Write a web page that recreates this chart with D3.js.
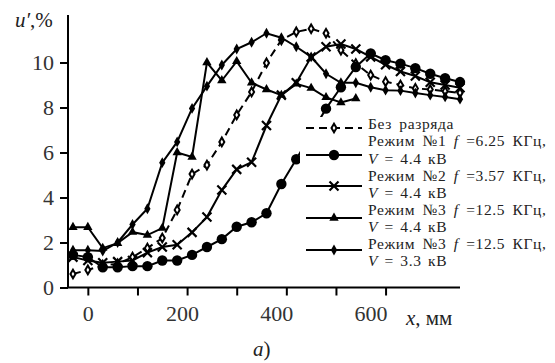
<!DOCTYPE html>
<html>
<head>
<meta charset="utf-8">
<script src="https://cdn.jsdelivr.net/npm/d3@7"></script>
<style>
  body { margin: 0; background: #fff; }
  svg text { font-family: "Liberation Serif", "Times New Roman", Times, "DejaVu Serif", serif; }
</style>
</head>
<body>
<div id="chart"></div>
<script>
// Data: x in mm, u' in %
var xNoDischarge = [-30, 0, 30, 60, 90, 120, 150, 180, 210, 240, 270, 300, 330, 360, 390, 420, 450, 480, 510, 540, 570, 600, 630, 660, 690, 720, 750];
var yNoDischarge = [0.6, 0.78, 1.0, 1.05, 1.35, 1.75, 2.2, 3.45, 5.04, 5.44, 6.47, 7.67, 8.69, 9.98, 11.0, 11.36, 11.5, 11.3, 10.55, 9.95, 9.44, 9.15, 9.0, 8.85, 8.8, 8.72, 8.65];

var xMode1 = [-30, 0, 30, 60, 90, 120, 150, 180, 210, 240, 270, 300, 330, 360, 390, 420, 480, 510, 540, 570, 600, 630, 660, 690, 720, 750];
var yMode1 = [1.45, 1.35, 0.9, 0.9, 0.95, 0.95, 1.2, 1.2, 1.45, 1.8, 2.15, 2.7, 2.9, 3.3, 4.6, 5.7, 7.95, 8.9, 9.8, 10.4, 10.1, 9.95, 9.75, 9.5, 9.3, 9.13];

var xMode2 = [-30, 0, 30, 60, 90, 120, 150, 180, 210, 240, 270, 300, 330, 360, 390, 420, 450, 480, 510, 540, 570, 600, 630, 660, 690, 720, 750];
var yMode2 = [1.35, 1.2, 1.1, 1.15, 1.2, 1.55, 1.8, 1.9, 2.45, 3.13, 4.33, 5.25, 5.57, 7.2, 8.55, 9.1, 10.24, 10.7, 10.82, 10.6, 10.25, 9.9, 9.6, 9.4, 9.12, 9.0, 8.88];

var xMode3a = [-30, 0, 30, 60, 90, 120, 150, 180, 210, 240, 270, 300, 330, 360, 390, 420, 450, 480, 510, 540];
var yMode3a = [2.68, 2.68, 1.75, 1.97, 2.46, 2.33, 2.64, 6.0, 5.8, 10.0, 9.2, 10.05, 9.1, 8.8, 8.55, 9.05, 8.86, 8.45, 8.22, 8.4];

var xMode3b = [-30, 0, 30, 60, 90, 120, 150, 180, 210, 240, 270, 300, 330, 360, 390, 420, 450, 480, 510, 540, 570, 600, 630, 660, 690, 720, 750];
var yMode3b = [1.66, 1.66, 1.62, 2.0, 2.8, 3.5, 5.55, 6.47, 7.96, 8.95, 9.89, 10.6, 10.9, 11.3, 11.1, 10.7, 10.25, 9.5, 9.1, 9.1, 8.9, 8.77, 8.75, 8.64, 8.55, 8.47, 8.37];

var xTicks = [0, 100, 200, 300, 400, 500, 600];
var xTickLabels = ["0", "", "200", "", "400", "", "600"];
var yTicks = [0, 2, 4, 6, 8, 10];

var legendLabels = [
    ["Без разряда"],
    ["Режим №1", "6.25", "4.4"],
    ["Режим №2", "3.57", "4.4"],
    ["Режим №3", "12.5", "4.4"],
    ["Режим №3", "12.5", "3.3"]
];

var FONT = '"Liberation Serif", "Times New Roman", Times, "DejaVu Serif", serif';

var svgWidth = 555;
var svgHeight = 363;

var margin = { top: 17.5, bottom: 75.5, right: 95, left: 68 };
var width = svgWidth - margin.left - margin.right;
var height = svgHeight - margin.top - margin.bottom;

var svg = d3.select("#chart")
    .append("svg")
    .attr("width", svgWidth)
    .attr("height", svgHeight)
    .attr("font-family", FONT);

var chartGroup = svg.append("g")
    .attr("transform", `translate(${margin.left}, ${margin.top})`);

// scales
var xScale = d3.scaleLinear().domain([-40, 750]).range([0, width]);
var yScale = d3.scaleLinear().domain([0, 12]).range([height, 0]);

// axes
var bottomAxis = d3.axisBottom(xScale)
    .tickValues(xTicks)
    .tickSize(8)
    .tickPadding(10)
    .tickFormat((d, i) => xTickLabels[i]);
var leftAxis = d3.axisLeft(yScale)
    .tickValues(yTicks)
    .tickSize(8)
    .tickPadding(6);

var xAxisG = chartGroup.append("g")
    .attr("transform", `translate(0, ${height})`)
    .call(bottomAxis);
var yAxisG = chartGroup.append("g").call(leftAxis);

[xAxisG, yAxisG].forEach(function(g) {
    g.attr("font-family", FONT);
    g.select(".domain").attr("stroke-width", 2);
    g.selectAll(".tick line").attr("stroke-width", 2);
    g.selectAll("text")
        .attr("font-size", 22)
        .attr("fill", "#333");
});
// in the scanned figure the x labels sit a little left of their ticks
xAxisG.selectAll(".tick text").attr("dx", (d, i) => -2.5 * i);

// plain axis lines without end caps
xAxisG.select(".domain").attr("d", `M0,0H${width}`);
yAxisG.select(".domain").attr("d", `M0,${height}V-2.5`);

// marker shapes
function markerPath(type) {
    if (type === "circle") return d3.symbol(d3.symbolCircle, 85)();
    if (type === "triangle") return d3.symbol(d3.symbolTriangle, 38)();
    if (type === "diamond") return d3.symbol(d3.symbolDiamond, 34)();
    if (type === "odiamond") return d3.symbol(d3.symbolDiamond, 22)();
    if (type === "cross") return "M-4.5,-4.5L4.5,4.5M-4.5,4.5L4.5,-4.5";
    return "";
}

var series = [
    { xs: xNoDischarge, ys: yNoDischarge, marker: "odiamond", dash: "8,5" },
    { xs: xMode1, ys: yMode1, marker: "circle", dash: null },
    { xs: xMode2, ys: yMode2, marker: "cross", dash: null },
    { xs: xMode3a, ys: yMode3a, marker: "triangle", dash: null },
    { xs: xMode3b, ys: yMode3b, marker: "diamond", dash: null }
];

var line = d3.line()
    .x(d => xScale(d[0]))
    .y(d => yScale(d[1]));

function drawMarker(g, type) {
    var p = g.append("path").attr("d", markerPath(type));
    if (type === "cross") {
        p.attr("fill", "none").attr("stroke", "#000").attr("stroke-width", 2.2);
    } else if (type === "odiamond") {
        p.attr("fill", "#fff").attr("stroke", "#000").attr("stroke-width", 2);
    } else {
        p.attr("fill", "#000");
    }
    return p;
}

series.forEach(function(s) {
    var pts = s.xs.map((x, i) => [x, s.ys[i]]);
    chartGroup.append("path")
        .datum(pts)
        .attr("d", line)
        .attr("fill", "none")
        .attr("stroke", "#000")
        .attr("stroke-width", 2)
        .attr("stroke-dasharray", s.dash);
    pts.forEach(function(p) {
        var g = chartGroup.append("g")
            .attr("transform", `translate(${xScale(p[0])}, ${yScale(p[1])})`);
        drawMarker(g, s.marker);
    });
});

// legend (white box hides the lines behind it)
var legend = svg.append("g");
legend.append("rect")
    .attr("x", 300).attr("y", 117)
    .attr("width", 255).attr("height", 155)
    .attr("fill", "#fff");

var legendLineY = [128, 155, 186, 218, 250];
var textY = [[129], [146, 164], [181, 198], [215, 232], [249, 266]];

legendLabels.forEach(function(lab, i) {
    var y = legendLineY[i];
    legend.append("line")
        .attr("x1", 306).attr("x2", 362)
        .attr("y1", y).attr("y2", y)
        .attr("stroke", "#000")
        .attr("stroke-width", 2)
        .attr("stroke-dasharray", series[i].dash);
    drawMarker(legend.append("g").attr("transform", `translate(334, ${y})`), series[i].marker);

    var t1 = legend.append("text")
        .attr("x", 368).attr("y", textY[i][0])
        .attr("font-size", 15.5)
        .attr("letter-spacing", 0.6)
        .attr("word-spacing", 3)
        .attr("fill", "#222");
    t1.append("tspan").text(lab[0]);
    if (lab.length > 1) {
        t1.append("tspan").attr("font-style", "italic").text("  f ");
        t1.append("tspan").text("=" + lab[1] + "  КГц,");
        var t2 = legend.append("text")
            .attr("x", 368).attr("y", textY[i][1])
            .attr("font-size", 15.5)
            .attr("letter-spacing", 0.6)
            .attr("word-spacing", 2)
            .attr("fill", "#222");
        t2.append("tspan").attr("font-style", "italic").text("V");
        t2.append("tspan").text(" = " + lab[2] + " кВ");
    }
});

// axis titles
var yTitle = svg.append("text")
    .attr("x", 15).attr("y", 27)
    .attr("font-size", 21)
    .attr("fill", "#222");
yTitle.append("tspan").attr("font-style", "italic").text("u′");
yTitle.append("tspan").text(",%");

var xTitle = svg.append("text")
    .attr("x", 406).attr("y", 325)
    .attr("font-size", 21)
    .attr("fill", "#222");
xTitle.append("tspan").attr("font-style", "italic").text("x");
xTitle.append("tspan").text(", мм");

var caption = svg.append("text")
    .attr("x", 253).attr("y", 356)
    .attr("font-size", 21)
    .attr("fill", "#222");
caption.append("tspan").attr("font-style", "italic").text("а");
caption.append("tspan").text(")");
</script>
</body>
</html>
